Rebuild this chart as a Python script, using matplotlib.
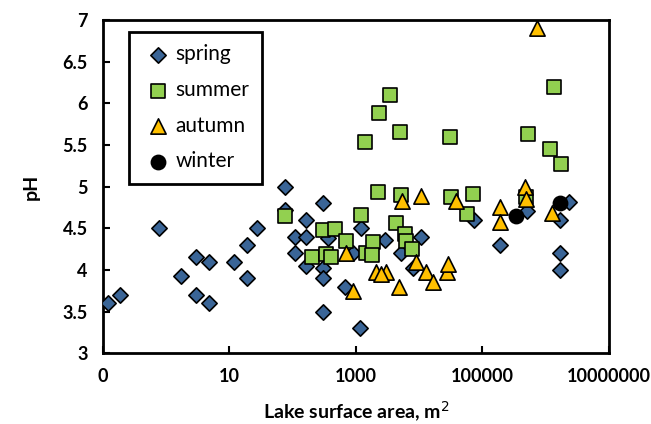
import matplotlib
matplotlib.use("Agg")
import matplotlib.pyplot as plt
from matplotlib.ticker import FixedLocator, FixedFormatter, MultipleLocator

# lake surface area (m2) and pH
spring_area = [0.12, 0.19, 0.76, 1.7, 3.0, 3.0, 4.7, 4.7, 11.8, 19, 19, 27.5,
               75, 75, 304, 166, 111, 166, 111, 166, 304, 304, 304, 670,
               1155, 1200, 908, 365, 2950, 10900, 5270, 8050, 73400, 189000,
               510000, 2.36e6, 1.7e6, 1.7e6, 1.7e6]
spring_ph = [3.6, 3.7, 4.5, 3.93, 4.15, 3.7, 4.1, 3.6, 4.1, 4.3, 3.9, 4.5,
             5.0, 4.72, 4.8, 4.6, 4.4, 4.4, 4.2, 4.05, 4.02, 3.9, 3.5, 3.8,
             3.3, 4.5, 4.2, 4.38, 4.36, 4.4, 4.2, 4.02, 4.6, 4.3,
             4.71, 4.82, 4.6, 4.2, 4.0]

summer_area = [75, 304, 477, 713, 1200, 200, 344, 413, 1476, 1880, 1811, 2280,
               3450, 2310, 4970, 1390, 30600, 1.35e6, 530000, 1.17e6, 1.74e6,
               5270, 32600, 71600, 57500, 490000, 4290, 5960, 6170, 7760]
summer_ph = [4.65, 4.48, 4.49, 4.35, 4.66, 4.16, 4.19, 4.16, 4.2, 4.34, 4.18, 4.93,
             6.1, 5.88, 5.66, 5.54, 5.59, 6.2, 5.63, 5.45, 5.27,
             4.9, 4.88, 4.91, 4.67, 4.88, 4.56, 4.43, 4.35, 4.25]

autumn_area = [713, 908, 5300, 10700, 39100, 482000, 500000, 189000, 189000,
               746000, 1.26e6, 9120, 13100, 27800, 29000, 3060, 2120, 2500,
               4840, 16700]
autumn_ph = [4.2, 3.75, 4.83, 4.89, 4.83, 5.0, 4.85, 4.76, 4.57,
             6.9, 4.68, 4.1, 3.98, 3.98, 4.07, 3.98, 3.97, 3.95,
             3.8, 3.85]

winter_area = [347000, 1.68e6]
winter_ph = [4.65, 4.8]

xticks = [0.1, 10, 1000, 100000, 10000000]
xtick_labels = ["0", "10", "1000", "100000", "10000000"]

plt.rcParams["font.family"] = ["Lato", "DejaVu Sans"]

fig = plt.figure(figsize=(6.51, 4.24), dpi=100)
ax = fig.add_axes([0.158, 0.167, 0.777, 0.786])

ew = 1.2
ax.scatter(spring_area, spring_ph, marker="D", s=7.8 ** 2, c="#3A6597",
           edgecolors="black", linewidths=ew, label="spring", zorder=3)
ax.scatter(summer_area, summer_ph, marker="s", s=9.6 ** 2, c="#92D050",
           edgecolors="black", linewidths=ew, label="summer", zorder=3)
ax.scatter(autumn_area, autumn_ph, marker="^", s=11 ** 2, c="#FFC000",
           edgecolors="black", linewidths=ew, label="autumn", zorder=3)
ax.scatter(winter_area, winter_ph, marker="o", s=10.2 ** 2, c="black",
           edgecolors="black", linewidths=ew, label="winter", zorder=3)

ax.set_xscale("log")
ax.set_xlim(0.1, 1e7)
ax.set_ylim(3, 7)
ax.xaxis.set_major_locator(FixedLocator(xticks))
ax.xaxis.set_major_formatter(FixedFormatter(xtick_labels))
ax.xaxis.set_minor_locator(FixedLocator([]))
ax.yaxis.set_major_locator(MultipleLocator(0.5))
ax.yaxis.set_major_formatter(plt.FuncFormatter(lambda v, p: f"{v:g}"))

ax.tick_params(direction="in", length=5, width=1.5, labelsize=13)
ax.tick_params(axis="x", pad=11)
ax.tick_params(axis="y", pad=11)
for lab in ax.get_xticklabels() + ax.get_yticklabels():
    lab.set_fontweight("bold")
for s in ax.spines.values():
    s.set_linewidth(2)

ax.set_xlabel("Lake surface area, m$^2$", fontsize=14, fontweight="bold", labelpad=10)
ax.set_ylabel("pH", fontsize=14, fontweight="bold", labelpad=16)

leg = ax.legend(loc="upper left", bbox_to_anchor=(0.051, 0.964), fontsize=15,
                frameon=True, fancybox=False, framealpha=1, edgecolor="black",
                handletextpad=0.05, labelspacing=0.75, borderpad=0.6,
                handlelength=1.6, borderaxespad=0)
leg.get_frame().set_linewidth(2)

fig.savefig("out.png", dpi=100)
